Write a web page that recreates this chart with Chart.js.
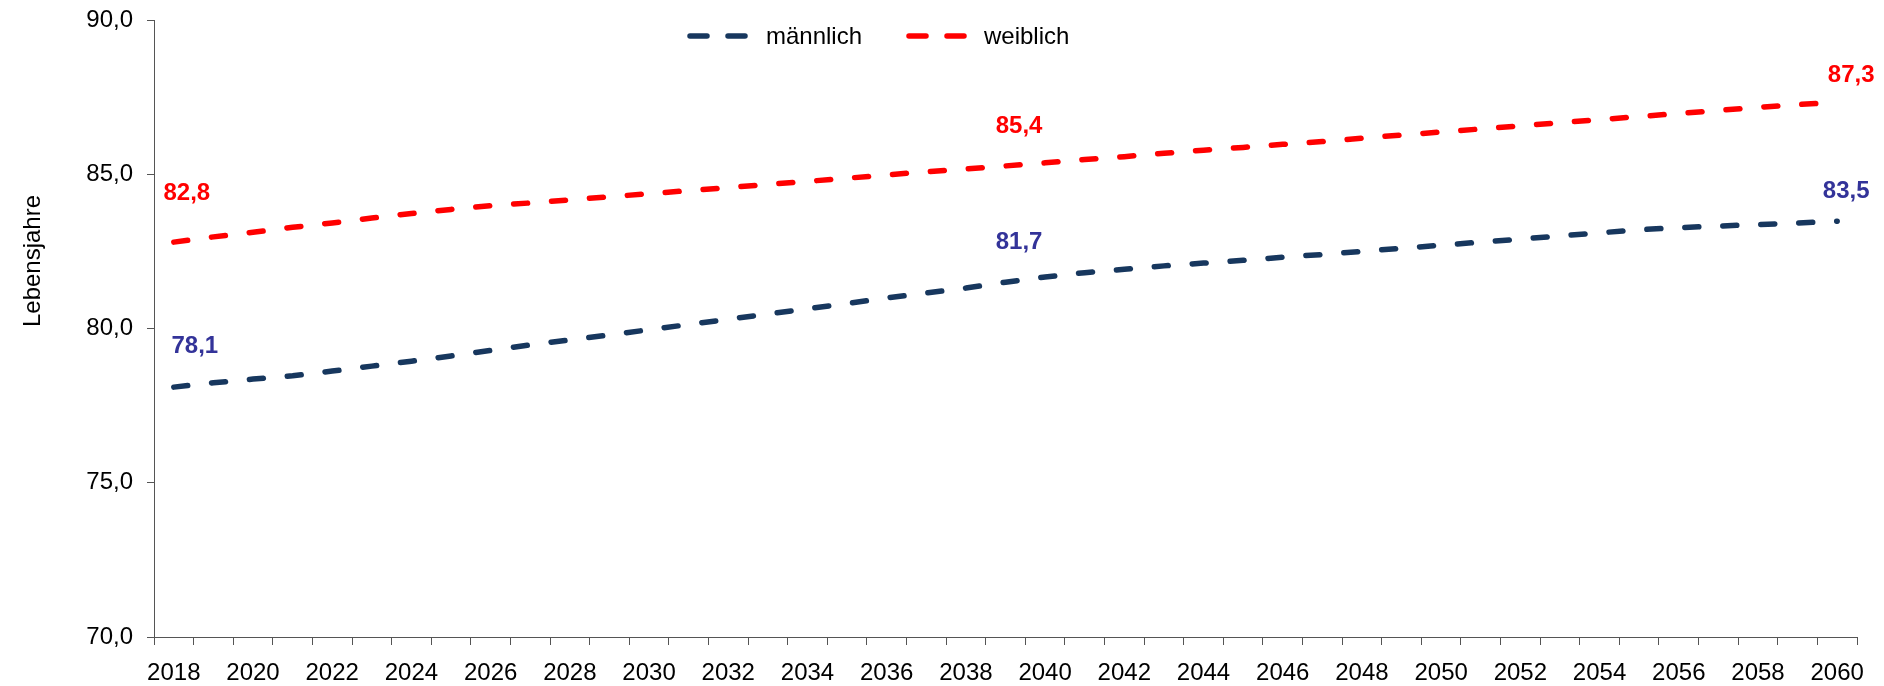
<!DOCTYPE html>
<html lang="de">
<head>
<meta charset="utf-8">
<title>Lebenserwartung</title>
<script src="https://cdn.jsdelivr.net/npm/chart.js@4.4.0/dist/chart.umd.min.js"></script>
<style>
    html, body { margin: 0; padding: 0; background: #fff; }
    #wrap { width: 1884px; height: 686px; }
</style>
</head>
<body>
<div id="wrap"><canvas id="lifeChart" width="1884" height="686"></canvas></div>
<script>
// Kategorien (Jahre)
const years = ['2018', '2019', '2020', '2021', '2022', '2023', '2024', '2025', '2026', '2027',
               '2028', '2029', '2030', '2031', '2032', '2033', '2034', '2035', '2036', '2037',
               '2038', '2039', '2040', '2041', '2042', '2043', '2044', '2045', '2046', '2047',
               '2048', '2049', '2050', '2051', '2052', '2053', '2054', '2055', '2056', '2057',
               '2058', '2059', '2060'];

// Lebenserwartung männlich
const maleValues = [78.10, 78.24, 78.36, 78.47, 78.62, 78.78, 78.94, 79.11, 79.29, 79.47,
                    79.63, 79.79, 79.96, 80.13, 80.30, 80.47, 80.64, 80.81, 80.99, 81.15,
                    81.31, 81.50, 81.67, 81.81, 81.92, 82.03, 82.12, 82.21, 82.31, 82.40,
                    82.50, 82.60, 82.70, 82.80, 82.90, 83.00, 83.10, 83.20, 83.27, 83.32,
                    83.37, 83.42, 83.48];

// Lebenserwartung weiblich
const femaleValues = [82.80, 82.97, 83.12, 83.28, 83.42, 83.58, 83.73, 83.86, 83.98, 84.07,
                      84.17, 84.27, 84.37, 84.47, 84.57, 84.67, 84.77, 84.87, 84.98, 85.08,
                      85.17, 85.27, 85.37, 85.48, 85.57, 85.68, 85.78, 85.87, 85.97, 86.06,
                      86.17, 86.27, 86.37, 86.47, 86.57, 86.67, 86.77, 86.87, 86.97, 87.07,
                      87.17, 87.26, 87.33];

const seriesNames = ['männlich', 'weiblich'];
const yTicks = [70, 75, 80, 85, 90];
const axisTitle = 'Lebensjahre';

// Jahre mit Datenbeschriftung
const labelYears = ['2018', '2040', '2060'];

// Styles
const FONT = '"Liberation Sans", Arial, sans-serif';
const lineColors = ['#17375E', '#FF0000'];
const labelColors = ['#333399', '#FF0000'];
const axisColor = '#555555';
const dashPattern = [14, 24];
// Versatz der Beschriftungen relativ zum Punkt (px)
const labelOffsets = [
    [[21, -41], [-26, -35], [9, -30]],
    [[13, -49], [-26, -36], [14, -27]]
];

function formatDe(v) {
    return v.toFixed(1).replace('.', ',');
}

// Data labels
const valueLabels = {
    id: 'valueLabels',
    afterDatasetsDraw(chart) {
        const ctx = chart.ctx;
        ctx.save();
        ctx.font = 'bold 24px ' + FONT;
        ctx.textAlign = 'center';
        ctx.textBaseline = 'middle';
        chart.data.datasets.forEach((ds, di) => {
            const meta = chart.getDatasetMeta(di);
            labelYears.forEach((yr, li) => {
                const idx = years.indexOf(yr);
                const pt = meta.data[idx];
                const off = labelOffsets[di][li];
                ctx.fillStyle = labelColors[di];
                ctx.fillText(formatDe(ds.data[idx]), pt.x + off[0], pt.y + off[1]);
            });
        });
        ctx.restore();
    }
};

// Legend + y title
const decorations = {
    id: 'decorations',
    afterDraw(chart) {
        const ctx = chart.ctx;
        ctx.save();
        // legend
        const items = [
            { x0: 690, x1: 746, tx: 766 },
            { x0: 909, x1: 965, tx: 984 }
        ];
        items.forEach((it, i) => {
            ctx.strokeStyle = lineColors[i];
            ctx.lineWidth = 5.5;
            ctx.lineCap = 'round';
            ctx.setLineDash([17, 21]);
            ctx.beginPath();
            ctx.moveTo(it.x0, 36);
            ctx.lineTo(it.x1, 36);
            ctx.stroke();
            ctx.setLineDash([]);
            ctx.fillStyle = '#000';
            ctx.font = '24px ' + FONT;
            ctx.textAlign = 'left';
            ctx.textBaseline = 'middle';
            ctx.fillText(seriesNames[i], it.tx, 37);
        });
        // y axis title
        ctx.translate(33, 261);
        ctx.rotate(-Math.PI / 2);
        ctx.font = '24px ' + FONT;
        ctx.fillStyle = '#000';
        ctx.textAlign = 'center';
        ctx.textBaseline = 'middle';
        ctx.fillText(axisTitle, 0, 0);
        ctx.restore();
    }
};

const ctx = document.getElementById('lifeChart').getContext('2d');
const lifeChart = new Chart(ctx, {
    type: 'line',
    data: {
        labels: years,
        datasets: [maleValues, femaleValues].map((vals, i) => ({
            label: seriesNames[i],
            data: vals,
            borderColor: lineColors[i],
            borderWidth: 5.5,
            borderDash: dashPattern,
            borderCapStyle: 'round',
            pointRadius: 0,
            tension: 0,
            fill: false
        }))
    },
    options: {
        responsive: false,
        devicePixelRatio: 1,
        animation: false,
        layout: { padding: { top: 20, right: 27, left: 0, bottom: 0 } },
        plugins: {
            legend: { display: false },
            tooltip: { enabled: false }
        },
        scales: {
            x: {
                type: 'category',
                offset: true,
                afterFit(scale) { scale.height = 49; },
                grid: {
                    offset: true,
                    drawOnChartArea: false,
                    drawTicks: true,
                    tickLength: 8,
                    color: axisColor,
                    lineWidth: 1
                },
                border: { display: true, color: axisColor, width: 1 },
                ticks: {
                    autoSkip: false,
                    maxRotation: 0,
                    padding: 16,
                    color: '#000',
                    font: { family: FONT, size: 24, lineHeight: 1 },
                    callback(val, i) { return i % 2 === 0 ? years[i] : ''; }
                }
            },
            y: {
                min: yTicks[0],
                max: yTicks[yTicks.length - 1],
                afterFit(scale) {
                    scale.width = 154;
                    scale.paddingTop = 0;
                    scale.paddingBottom = 0;
                },
                grid: {
                    drawOnChartArea: false,
                    drawTicks: true,
                    tickLength: 7,
                    color: axisColor,
                    lineWidth: 1
                },
                border: { display: true, color: axisColor, width: 1 },
                ticks: {
                    stepSize: yTicks[1] - yTicks[0],
                    padding: 14,
                    color: '#000',
                    font: { family: FONT, size: 24, lineHeight: 1 },
                    callback(v) { return formatDe(v); }
                }
            }
        }
    },
    plugins: [valueLabels, decorations]
});
</script>
</body>
</html>
